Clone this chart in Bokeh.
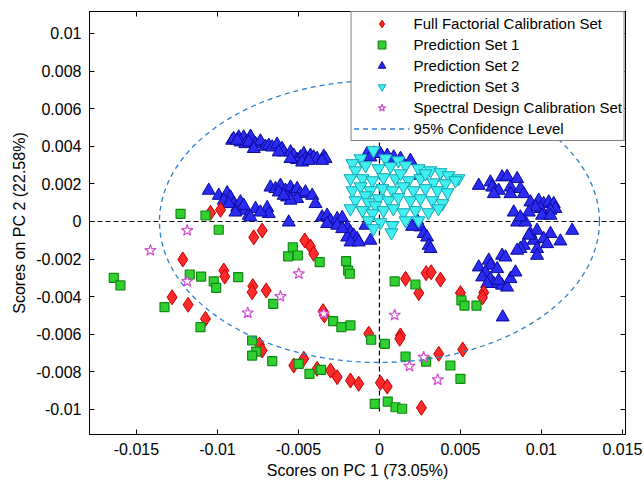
import numpy as np
from bokeh.plotting import figure
from bokeh.models import (Legend, LegendItem, LinearAxis, FixedTicker,
                          CustomJSTickFormatter, Range1d)
from bokeh.embed import file_html
from bokeh.resources import INLINE

# PCA scores, stored in units of 1e-3
SCALE = 1e-3

# Full factorial calibration set (PC1, PC2)
ffc_points = [
    (-10.43, 0.46), (-9.81, 0.62), (-7.76, -0.84), (-7.24, -0.48), (-12.14, -2.02),
    (-9.61, -2.61), (-9.55, -2.93), (-7.82, -3.44), (-7.86, -3.76), (-6.99, -3.67),
    (-12.80, -4.03), (-11.81, -4.43), (-10.74, -5.18), (-7.41, -6.54), (-7.24, -6.86),
    (-4.61, -1.01), (-4.26, -1.33), (-4.06, -1.72), (1.61, -3.05), (2.88, -2.75),
    (3.19, -2.70), (3.77, -3.09), (2.43, -3.81), (5.00, -3.81), (6.44, -3.78),
    (6.36, -4.04), (-3.48, -4.77), (-3.40, -5.00), (-0.66, -5.97), (1.30, -6.06),
    (1.25, -6.24), (3.66, -7.04), (5.14, -6.81), (-4.67, -7.30), (-5.29, -7.66),
    (-3.85, -7.84), (-3.02, -7.93), (-2.61, -8.28), (-1.79, -8.46), (-1.28, -8.63),
    (0.06, -8.58), (0.48, -8.78), (2.59, -9.91),
]

# Prediction set 1
ps1_points = [
    (-12.28, 0.41), (-10.74, 0.32), (-9.92, -0.44), (-16.40, -3.00), (-15.99, -3.40),
    (-11.71, -2.82), (-11.01, -2.93), (-10.23, -3.18), (-10.08, -3.53), (-8.72, -2.96),
    (-13.27, -4.56), (-11.05, -5.62), (-6.56, -4.38), (-7.86, -6.33), (-7.61, -6.92),
    (-7.86, -7.13), (-6.62, -7.43), (-5.64, -1.85), (-5.35, -1.37), (-5.04, -1.81),
    (-3.69, -2.16), (-2.06, -2.11), (-1.93, -2.61), (-1.83, -2.78), (0.94, -3.19),
    (2.22, -3.35), (5.06, -4.20), (5.25, -4.47), (5.99, -4.47), (-2.86, -5.30),
    (-2.35, -5.62), (-1.79, -5.53), (-0.51, -6.29), (0.33, -6.51), (1.61, -7.18),
    (2.88, -7.45), (4.38, -7.66), (5.00, -8.37), (-4.98, -7.57), (-4.32, -8.10),
    (-3.60, -7.89), (-0.29, -9.70), (0.51, -9.58), (0.99, -9.88), (1.40, -9.96),
]

# Prediction set 2
ps2_points = [
    # upper-left band
    (-9.09, 4.31), (-9.00, 4.40), (-8.69, 4.48), (-8.38, 4.48), (-7.96, 4.52),
    (-8.58, 4.22), (-8.27, 4.13), (-8.07, 4.22), (-7.65, 4.13), (-7.35, 4.27),
    (-7.04, 3.99), (-6.83, 4.04), (-6.62, 3.95), (-6.32, 4.10), (-6.01, 3.87),
    (-5.91, 3.69), (-5.49, 3.69), (-5.29, 3.51), (-5.08, 3.28), (-4.88, 3.42),
    (-4.67, 3.60), (-4.57, 3.34), (-4.26, 3.51), (-4.06, 3.42), (-3.85, 3.34),
    (-3.44, 3.46), (-3.33, 3.34), (-8.78, 4.31), (-7.76, 3.87), (-6.22, 3.69),
    (-4.77, 3.15), (-4.36, 3.24), (-3.54, 3.24), (-5.49, 3.34),
    # left group near PC2 = 0.001
    (-10.54, 1.65), (-9.92, 1.38), (-9.40, 1.51), (-9.20, 1.29), (-9.61, 1.12),
    (-8.99, 0.94), (-8.78, 0.76), (-8.58, 1.03), (-8.27, 0.59), (-8.07, 0.32),
    (-7.65, 0.68), (-8.89, 0.49), (-6.93, 0.73), (-6.83, 0.41), (-7.35, 0.49),
    (-7.96, 0.23), (-8.38, 0.85), (-9.30, 0.94),
    # middle group
    (-6.73, 1.82), (-6.42, 1.74), (-6.11, 1.91), (-5.80, 1.65), (-5.49, 1.82),
    (-5.29, 1.56), (-5.08, 1.74), (-4.88, 1.47), (-4.57, 1.56), (-4.15, 1.38),
    (-5.70, 1.29), (-5.08, 1.21), (-5.49, 1.12), (-3.95, 0.94), (-6.22, 1.56),
    (-5.91, 1.38), (-5.60, -0.04),
    # tail toward the origin
    (-3.54, 0.23), (-3.23, 0.32), (-3.02, 0.05), (-2.61, 0.14), (-2.30, 0.20),
    (-1.99, -0.30), (-1.79, -0.57), (-1.59, -0.74), (-1.38, -0.92), (-1.99, -0.84),
    (-1.79, -1.10), (-1.28, -1.10), (-0.86, -0.21), (-0.56, -1.01), (-3.23, -0.12),
    (-2.61, -0.21), (-2.30, -0.39),
    # top centre
    (-0.76, 3.60), (-0.35, 3.63), (0.06, 3.60), (0.48, 3.51), (0.88, 3.42),
    (1.30, 3.34), (0.68, 3.24), (-0.56, 3.42), (1.91, 3.24), (2.53, 2.45),
    # right of the origin
    (2.33, 0.05), (2.53, -0.30), (2.73, -0.65), (2.94, -0.84), (3.04, -1.28),
    (3.15, -1.45), (2.02, -0.27),
    # right arc, upper part
    (6.13, 1.91), (6.85, 2.09), (6.96, 1.82), (7.57, 2.36), (7.88, 2.39),
    (8.50, 2.27), (7.36, 1.65), (7.06, 1.47), (8.09, 1.82), (8.70, 1.74),
    (8.09, 1.47), (8.91, 1.47), (9.32, 1.03), (9.83, 1.12), (10.14, 0.94),
    (10.45, 1.03), (10.76, 0.94), (10.86, 0.68), (10.56, 0.59), (9.94, 0.68),
    (9.63, 0.76), (9.22, 0.49), (10.04, 0.32), (10.56, 0.32), (8.29, 0.49),
    (8.50, -0.04), (9.01, -0.04), (8.70, 0.23),
    # right arc, middle part
    (9.32, -0.65), (9.73, -0.48), (10.56, -0.65), (10.14, -0.92), (9.52, -1.01),
    (9.22, -0.74), (11.90, -0.48), (11.17, -1.05), (8.91, -1.28), (8.70, -1.45),
    (9.73, -1.45), (9.73, -1.81), (10.35, -1.19), (8.50, -1.54),
    # right arc, lower part
    (7.57, -1.81), (6.75, -2.07), (6.13, -2.43), (6.85, -2.34), (7.27, -2.52),
    (6.54, -2.70), (6.34, -2.96), (6.85, -3.05), (7.06, -3.31), (7.57, -3.40),
    (7.88, -3.50), (8.09, -3.05), (8.40, -2.70), (6.65, -3.31), (7.36, -3.14),
    (7.78, -1.90), (7.61, -5.09),
]

# Prediction set 3
ps3_points = [
    (-0.37, 3.78), (-1.17, 3.35), (0.37, 3.35), (1.17, 3.24), (-1.67, 3.09),
    (-0.86, 2.98), (-0.06, 2.82), (0.68, 2.93), (1.61, 2.98), (2.41, 2.82),
    (3.15, 2.71), (3.77, 2.61), (4.26, 2.45), (4.88, 2.29), (-1.48, 2.71),
    (-1.79, 2.29), (-1.05, 2.29), (-0.43, 2.18), (0.25, 2.34), (0.99, 2.29),
    (1.79, 2.18), (2.53, 2.29), (3.33, 2.07), (4.07, 2.02), (4.69, 2.18),
    (1.30, 2.55), (2.84, 2.55), (-1.67, 1.65), (-1.17, 1.86), (-0.56, 1.65),
    (0.19, 1.76), (0.80, 1.65), (1.48, 1.86), (2.10, 1.65), (2.84, 1.76),
    (3.58, 1.65), (4.20, 1.54), (-0.86, 1.38), (-1.48, 1.12), (-0.68, 1.01),
    (-0.06, 1.22), (0.56, 1.12), (1.17, 1.28), (1.91, 1.12), (2.53, 1.22),
    (3.27, 1.12), (3.89, 0.96), (-0.25, 0.85), (-1.05, 0.59), (-0.43, 0.43),
    (0.25, 0.59), (0.86, 0.69), (1.48, 0.48), (2.22, 0.59), (3.02, 0.48),
    (3.64, 0.69), (-1.79, 0.69), (-0.68, 0.05), (0.06, -0.05), (0.80, -0.21),
    (1.61, 0.05), (-0.37, -0.37), (0.74, -0.59), (2.41, 0.05),
]

# Spectral design calibration set
sdc_points = [
    (-14.14, -1.54), (-11.87, -0.48), (-11.87, -3.19), (-8.13, -4.86), (-6.11, -3.99),
    (-4.98, -2.78), (-3.44, -4.91), (0.94, -4.98), (2.73, -7.22), (1.85, -7.70),
    (3.60, -8.42),
]

# 95% confidence ellipse semi-axes (PC1, PC2)
CONF_A = 0.01358
CONF_B = 0.00750

x_ticks = [-0.015, -0.01, -0.005, 0, 0.005, 0.01, 0.015]
y_ticks = [-0.01, -0.008, -0.006, -0.004, -0.002, 0, 0.002, 0.004, 0.006, 0.008, 0.01]

X_RANGE = (-0.0179, 0.01519)
Y_RANGE = (-0.01133, 0.01117)
ZERO_LINE_BOTTOM = -0.0101


def unzip(points):
    arr = np.array(points, dtype=float) * SCALE
    return arr[:, 0], arr[:, 1]


FONT = "Liberation Sans"

p = figure(width=644, height=486, output_backend="svg", toolbar_location=None,
           x_range=Range1d(*X_RANGE), y_range=Range1d(*Y_RANGE),
           min_border_left=89, min_border_right=19, min_border_top=11,
           min_border_bottom=52)
p.grid.visible = False
p.outline_line_color = "black"
p.outline_line_width = 1
p.background_fill_color = "white"
p.border_fill_color = "white"

fmt = CustomJSTickFormatter(code="return String(parseFloat(tick.toFixed(4)));")
p.xaxis.ticker = FixedTicker(ticks=x_ticks)
p.yaxis.ticker = FixedTicker(ticks=y_ticks)
p.xaxis.formatter = fmt
p.yaxis.formatter = fmt
p.xaxis.axis_label = "Scores on PC 1 (73.05%)"
p.yaxis.axis_label = "Scores on PC 2 (22.58%)"
for ax in (p.xaxis, p.yaxis):
    ax.major_tick_in = 5
    ax.major_tick_out = 0
    ax.minor_tick_line_color = None
    ax.axis_line_color = "black"
    ax.major_tick_line_color = "black"
    ax.major_label_text_font = FONT
    ax.major_label_text_font_size = "16px"
    ax.major_label_text_color = "black"
    ax.axis_label_text_font = FONT
    ax.axis_label_text_font_size = "16px"
    ax.axis_label_text_font_style = "normal"
    ax.axis_label_text_color = "black"
p.xaxis.major_label_standoff = 8
p.yaxis.major_label_standoff = 8
p.xaxis.axis_label_standoff = 4
p.yaxis.axis_label_standoff = 5

# box ticks on the right and top edges, without labels
blank = CustomJSTickFormatter(code="return '';")
for loc, ticks in (("right", y_ticks), ("above", x_ticks)):
    box_ax = LinearAxis(ticker=FixedTicker(ticks=ticks), formatter=blank,
                        major_label_standoff=0, major_tick_in=5, major_tick_out=0,
                        minor_tick_line_color=None, axis_line_color="black",
                        major_tick_line_color="black")
    p.add_layout(box_ax, loc)

# zero reference lines
p.line(list(X_RANGE), [0, 0], line_color="black", line_dash="5 3", line_width=1.2)
p.line([0, 0], [ZERO_LINE_BOTTOM, Y_RANGE[1]], line_color="black", line_dash="5 3",
       line_width=1.2)

x2, y2 = unzip(ps2_points)
r_ps2 = p.scatter(x2, y2, marker="triangle", size=13, fill_color="#2b2bf2",
                  line_color="#0a0a9c", line_width=1)
x3, y3 = unzip(ps3_points)
r_ps3 = p.scatter(x3, y3, marker="inverted_triangle", size=13, fill_color="#40f0f0",
                  line_color="#16a6b6", line_width=1)
xf, yf = unzip(ffc_points)
r_ffc = p.scatter(xf, yf, marker="diamond", size=15, fill_color="#ff2a2a",
                  line_color="#c00000", line_width=1)
x1, y1 = unzip(ps1_points)
r_ps1 = p.scatter(x1, y1, marker="square", size=9, fill_color="#2fd02f",
                  line_color="#128a12", line_width=1.2)
xs, ys = unzip(sdc_points)
r_sdc = p.scatter(xs, ys, marker="star", size=12, fill_color="white",
                  line_color="#d04ed0", line_width=1.2)

theta = np.linspace(0, 2 * np.pi, 361)
r_conf = p.line(CONF_A * np.cos(theta), CONF_B * np.sin(theta), line_color="#2a7fd0",
                line_dash="5 4", line_width=1.3)

legend = Legend(items=[
    LegendItem(label="Full Factorial Calibration Set", renderers=[r_ffc]),
    LegendItem(label="Prediction Set 1", renderers=[r_ps1]),
    LegendItem(label="Prediction Set 2", renderers=[r_ps2]),
    LegendItem(label="Prediction Set 3", renderers=[r_ps3]),
    LegendItem(label="Spectral Design Calibration Set", renderers=[r_sdc]),
    LegendItem(label="95% Confidence Level", renderers=[r_conf]),
], location="top_right", margin=0, padding=2, spacing=2, label_height=19,
   glyph_height=19, glyph_width=56, label_standoff=4,
   border_line_color="black", border_line_width=1, background_fill_alpha=1,
   label_text_font=FONT, label_text_font_size="15px", label_text_color="black")
p.add_layout(legend)

open("out.html", "w").write(file_html(p, INLINE))
